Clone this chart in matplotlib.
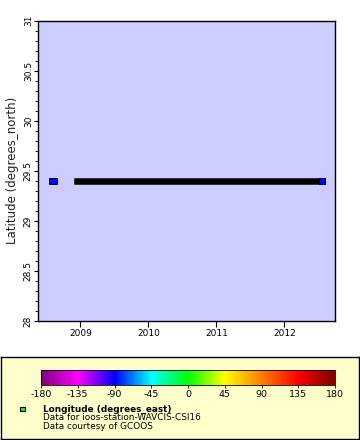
import matplotlib
matplotlib.use("Agg")
import matplotlib.pyplot as plt
import matplotlib.dates as mdates
from matplotlib.colors import LinearSegmentedColormap, Normalize
from matplotlib.patches import Rectangle
import matplotlib.colorbar as mcolorbar
from datetime import datetime

# ---- data ----
isolated_times = ["2008-08-02", "2008-08-14"]
isolated_lat = [29.4, 29.4]
segment_start = ["2008-12-15"]
segment_end = ["2012-07-20"]
segment_lat = [29.4]
station_lon = -90.0

x_limits = ["2008-05-17", "2012-09-29"]
y_limits = [28, 31]
year_ticks = ["2009-01-01", "2010-01-01", "2011-01-01", "2012-01-01"]
year_labels = ["2009", "2010", "2011", "2012"]
lat_ticks = [28, 28.5, 29, 29.5, 30, 30.5, 31]
lat_labels = ["28", "28.5", "29", "29.5", "30", "30.5", "31"]
cbar_ticks = [-180, -135, -90, -45, 0, 45, 90, 135, 180]
cbar_colors = ["#800080", "#ff00ff", "#0000ff", "#00ffff", "#00ff00",
               "#ffff00", "#ff8000", "#ff0000", "#800000"]

def d(s):
    return mdates.date2num(datetime.strptime(s, "%Y-%m-%d"))

cmap = LinearSegmentedColormap.from_list("rainbow2", cbar_colors)
norm = Normalize(-180, 180)
mcol = cmap(norm(station_lon))

fig = plt.figure(figsize=(3.6, 4.4), dpi=100)
W, H = 360, 440
ax = fig.add_axes([37.7 / W, 1 - 321 / H, (335 - 37.7) / W, (321 - 20.7) / H])
ax.set_facecolor("#ccccff")

px = 72 / 100.0
for s, e, la in zip(segment_start, segment_end, segment_lat):
    ax.plot([d(s), d(e)], [la, la], color="black", lw=6.5 * px,
            solid_capstyle="projecting", zorder=3)
    ax.plot([d(e)], [la], marker="s", ms=6.2 * px, mfc=mcol, mec="black",
            mew=1.0 * px, ls="none", zorder=4)
for t, la in zip(isolated_times, isolated_lat):
    ax.plot([d(t)], [la], marker="s", ms=6.2 * px, mfc=mcol, mec="black",
            mew=1.0 * px, ls="none", zorder=4)

ax.set_xlim(d(x_limits[0]), d(x_limits[1]))
ax.set_ylim(*y_limits)
ax.set_xticks([d(t) for t in year_ticks])
ax.set_xticklabels(year_labels, fontsize=6.5)
ax.set_yticks(lat_ticks)
ax.set_yticklabels(lat_labels, fontsize=6.5, rotation=90, va="center")
ax.set_yticks([28 + 0.1 * i for i in range(31)], minor=True)
ax.tick_params(axis="x", which="major", length=4, width=0.8, pad=2)
ax.tick_params(axis="y", which="major", length=3, width=0.8, pad=0.5)
ax.tick_params(axis="y", which="minor", length=2, width=0.6)
ax.tick_params(top=False, right=False)
for sp in ax.spines.values():
    sp.set_linewidth(1.0)
ax.set_ylabel("Latitude (degrees_north)", fontsize=8.5, color="#222222")
ax.yaxis.set_label_coords((19 - 37.7) / (335 - 37.7), 0.5)

# legend box
lax = fig.add_axes([0.5 / W, 1 - 438.7 / H, 358.5 / W, (438.7 - 357.3) / H])
lax.set_facecolor("#ffffcc")
lax.set_xticks([])
lax.set_yticks([])
lax.set_xlim(0, W)
lax.set_ylim(438.7, 357.3)
for sp in lax.spines.values():
    sp.set_linewidth(1.0)
lax.add_patch(Rectangle((19.7, 406.7), 4.6, 4.6, facecolor="#00ff00",
                        edgecolor="black", lw=0.8))
lax.text(42.7, 409, "Longitude (degrees_east)", fontsize=6.4,
         fontweight="bold", va="center", ha="left")
lax.text(42.7, 417.8, "Data for ioos-station-WAVCIS-CSI16", fontsize=6.4,
         va="center", ha="left")
lax.text(42.7, 426.7, "Data courtesy of GCOOS", fontsize=6.4,
         va="center", ha="left")

cax = fig.add_axes([41 / W, 1 - 384.5 / H, (335 - 41) / W, 14.5 / H])
cax.set_zorder(5)
cb = mcolorbar.ColorbarBase(cax, cmap=cmap, norm=norm, orientation="horizontal",
                            ticks=cbar_ticks)
cb.ax.tick_params(length=2.5, width=0.6, labelsize=6.8, pad=1.5)
cb.ax.set_xticklabels([str(v) for v in cbar_ticks])
cb.outline.set_linewidth(0.6)

fig.savefig("out.png", dpi=100)
